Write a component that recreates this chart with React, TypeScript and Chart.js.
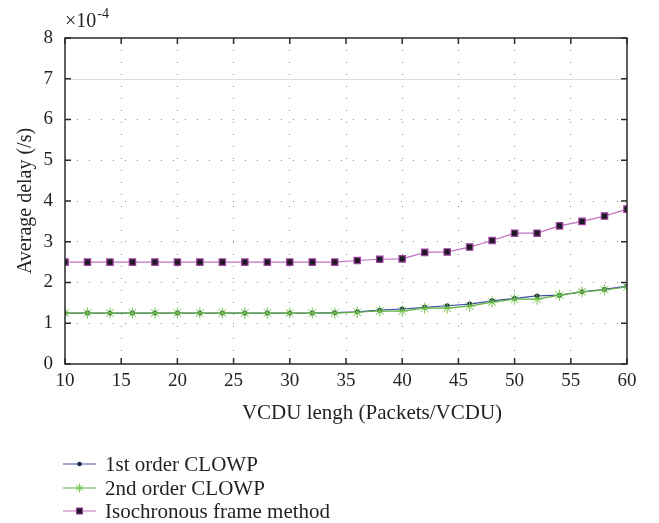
import React, { useEffect, useRef } from "react";
import { Chart, registerables } from "chart.js";

Chart.register(...registerables);

const xValues = [10, 12, 14, 16, 18, 20, 22, 24, 26, 28, 30, 32, 34, 36, 38, 40, 42, 44, 46, 48, 50, 52, 54, 56, 58, 60];
const firstOrder = [1.25, 1.25, 1.25, 1.25, 1.25, 1.25, 1.25, 1.25, 1.25, 1.25, 1.25, 1.25, 1.26, 1.28, 1.32, 1.35, 1.39, 1.43, 1.47, 1.55, 1.61, 1.67, 1.69, 1.77, 1.83, 1.91];
const secondOrder = [1.25, 1.25, 1.25, 1.25, 1.25, 1.25, 1.25, 1.25, 1.25, 1.25, 1.25, 1.25, 1.25, 1.27, 1.3, 1.3, 1.37, 1.37, 1.42, 1.52, 1.59, 1.59, 1.69, 1.77, 1.82, 1.89];
const isochronous = [2.5, 2.5, 2.5, 2.5, 2.5, 2.5, 2.5, 2.5, 2.5, 2.5, 2.5, 2.5, 2.5, 2.54, 2.57, 2.58, 2.74, 2.75, 2.87, 3.03, 3.21, 3.21, 3.39, 3.5, 3.63, 3.8];
const seriesNames = ["1st order CLOWP", "2nd order CLOWP", "Isochronous frame method"];
const xTitle = "VCDU lengh (Packets/VCDU)";
const yTitle = "Average delay (/s)";
const exponentBase = "×10";
const exponentPower = "-4";

const FONT = "'Liberation Serif', 'Times New Roman', serif";
const TEXT = "#231f20";

const toPoints = (ys: number[]) => ys.map((y, i) => ({ x: xValues[i], y }));

const framePlugin = {
  id: "frame",
  beforeDatasetsDraw(chart: any) {
    const { ctx, chartArea: a, scales } = chart;
    ctx.save();
    const y7 = scales.y.getPixelForValue(7);
    ctx.strokeStyle = "#dcdcdc";
    ctx.lineWidth = 1;
    ctx.beginPath();
    ctx.moveTo(a.left, Math.round(y7) + 0.5);
    ctx.lineTo(a.right, Math.round(y7) + 0.5);
    ctx.stroke();
    ctx.restore();
  },
  afterDatasetsDraw(chart: any) {
    const { ctx, chartArea: a, scales } = chart;
    ctx.save();
    ctx.strokeStyle = "#2b2b2b";
    ctx.lineWidth = 1.5;
    ctx.strokeRect(a.left, a.top, a.right - a.left, a.bottom - a.top);
    const len = 6;
    ctx.beginPath();
    scales.x.ticks.forEach((t: any) => {
      const px = scales.x.getPixelForValue(t.value);
      ctx.moveTo(px, a.bottom);
      ctx.lineTo(px, a.bottom - len);
      ctx.moveTo(px, a.top);
      ctx.lineTo(px, a.top + len);
    });
    scales.y.ticks.forEach((t: any) => {
      const py = scales.y.getPixelForValue(t.value);
      ctx.moveTo(a.left, py);
      ctx.lineTo(a.left + len, py);
      ctx.moveTo(a.right, py);
      ctx.lineTo(a.right - len, py);
    });
    ctx.stroke();
    ctx.restore();
  },
  afterDraw(chart: any) {
    const { ctx, chartArea: a } = chart;
    ctx.save();
    ctx.fillStyle = TEXT;
    ctx.textBaseline = "alphabetic";
    ctx.textAlign = "left";
    ctx.font = `20px ${FONT}`;
    ctx.fillText(exponentBase, a.left, 27);
    const w = ctx.measureText(exponentBase).width;
    ctx.font = `14px ${FONT}`;
    ctx.fillText(exponentPower, a.left + w + 1, 18);

    // x axis title (offset to the right as in the reference)
    ctx.font = `21px ${FONT}`;
    ctx.textAlign = "center";
    ctx.textBaseline = "middle";
    ctx.fillText(xTitle, 372, 413);

    // legend
    ctx.textAlign = "left";
    const rows = [464, 488, 511];
    chart.data.datasets.forEach((ds: any, i: number) => {
      const y = rows[i];
      ctx.strokeStyle = ds.borderColor;
      ctx.lineWidth = 1.2;
      ctx.beginPath();
      ctx.moveTo(63, y);
      ctx.lineTo(96, y);
      ctx.stroke();
      const mx = 79.5;
      if (ds.pointStyle === "circle") {
        ctx.fillStyle = ds.pointBackgroundColor;
        ctx.beginPath();
        ctx.arc(mx, y, 2.3, 0, Math.PI * 2);
        ctx.fill();
      } else if (ds.pointStyle === "star") {
        ctx.strokeStyle = ds.pointBorderColor;
        ctx.lineWidth = 1;
        ctx.beginPath();
        const r = 4.5;
        for (let k = 0; k < 4; k++) {
          const ang = (k * Math.PI) / 4;
          ctx.moveTo(mx - r * Math.cos(ang), y - r * Math.sin(ang));
          ctx.lineTo(mx + r * Math.cos(ang), y + r * Math.sin(ang));
        }
        ctx.stroke();
      } else {
        ctx.fillStyle = ds.pointBackgroundColor;
        ctx.strokeStyle = ds.pointBorderColor;
        ctx.lineWidth = 1;
        ctx.fillRect(mx - 3, y - 3, 6, 6);
        ctx.strokeRect(mx - 3, y - 3, 6, 6);
      }
      ctx.fillStyle = TEXT;
      ctx.font = `21px ${FONT}`;
      ctx.textBaseline = "middle";
      ctx.fillText(ds.label, 105, y + 1);
    });
    ctx.restore();
  },
};

export default function App() {
  const ref = useRef<HTMLCanvasElement | null>(null);
  useEffect(() => {
    if (!ref.current) return;
    const chart = new Chart(ref.current, {
      type: "line",
      data: {
        datasets: [
          {
            label: seriesNames[0],
            data: toPoints(firstOrder),
            borderColor: "#3f4fa8",
            borderWidth: 1.2,
            pointStyle: "circle",
            pointRadius: 2.5,
            pointBackgroundColor: "#1b2450",
            pointBorderColor: "#1b2450",
            pointBorderWidth: 0,
            order: 2,
          },
          {
            label: seriesNames[1],
            data: toPoints(secondOrder),
            borderColor: "#62b040",
            borderWidth: 1.2,
            pointStyle: "star",
            pointRadius: 5.5,
            pointBackgroundColor: "#6cbf45",
            pointBorderColor: "#72c64c",
            pointBorderWidth: 1,
            order: 1,
          },
          {
            label: seriesNames[2],
            data: toPoints(isochronous),
            borderColor: "#c070c0",
            borderWidth: 1.2,
            pointStyle: "rect",
            pointRadius: 4.5,
            pointBackgroundColor: "#1e1a24",
            pointBorderColor: "#a043a0",
            pointBorderWidth: 1.2,
            order: 0,
          },
        ],
      },
      options: {
        responsive: false,
        animation: false,
        layout: { padding: { left: 0, right: 32, top: 38, bottom: 89 } },
        plugins: { legend: { display: false }, tooltip: { enabled: false } },
        elements: { line: { tension: 0 } },
        scales: {
          x: {
            type: "linear",
            min: 10,
            max: 60,
            ticks: { stepSize: 5, padding: 6, color: TEXT, font: { family: FONT, size: 19 } },
            grid: {
              drawTicks: false,
              color: (c: any) => (c.tick && (c.tick.value === 10 || c.tick.value === 60) ? "rgba(0,0,0,0)" : "#8a8a8a"),
              lineWidth: 1,
            },
            border: { display: false, dash: [1, 11] },
            title: { display: false, text: xTitle },
            afterFit: (s: any) => { s.height = 70; },
          },
          y: {
            min: 0,
            max: 8,
            ticks: { stepSize: 1, padding: 12, color: TEXT, font: { family: FONT, size: 19 } },
            grid: {
              drawTicks: false,
              color: (c: any) => (c.tick && (c.tick.value === 0 || c.tick.value === 8 || c.tick.value === 7) ? "rgba(0,0,0,0)" : "#8a8a8a"),
              lineWidth: 1,
            },
            border: { display: false, dash: [1, 11] },
            title: { display: true, text: yTitle, color: TEXT, font: { family: FONT, size: 20 }, padding: { top: 14, bottom: 14 } },
            afterFit: (s: any) => { s.width = 65; },
          },
        },
      },
      plugins: [framePlugin],
    });
    return () => chart.destroy();
  }, []);
  return (
    <div style={{ position: "fixed", left: 0, top: 0, width: 659, height: 523, background: "#fff" }}>
      <canvas ref={ref} width={659} height={523} />
    </div>
  );
}
